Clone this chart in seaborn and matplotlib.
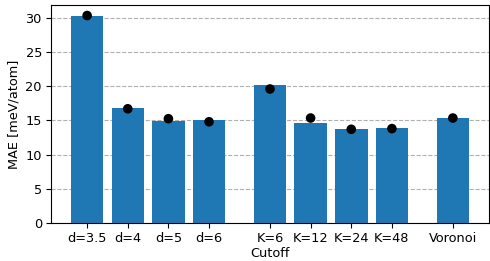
import matplotlib
matplotlib.use("Agg")
import matplotlib.pyplot as plt
import numpy as np
import pandas as pd
import seaborn as sns

# Cutoff schemes, grouped by type (distance, k-nearest, Voronoi)
labels = ["d=3.5", "d=4", "d=5", "d=6", "K=6", "K=12", "K=24", "K=48", "Voronoi"]
group = ["d", "d", "d", "d", "K", "K", "K", "K", "V"]
mae_bar = [30.3, 16.85, 14.95, 15.1, 20.2, 14.65, 13.8, 13.9, 15.4]
mae_dot = [30.35, 16.7, 15.25, 14.8, 19.6, 15.35, 13.7, 13.8, 15.35]

# x positions: one slot per bar, an extra half slot between groups
pos = []
x = 0.0
for i, g in enumerate(group):
    if i > 0:
        x += 1.0 if g == group[i - 1] else 1.5
    pos.append(x)

df = pd.DataFrame({"pos": pos, "bar": mae_bar, "dot": mae_dot, "label": labels})

# reference looks like it was rendered at ~0.93 scale
scale = 0.93
plt.rcParams.update({
    "font.size": 10 * scale,
    "xtick.major.size": 3.5 * scale,
    "ytick.major.size": 3.5 * scale,
    "xtick.major.pad": 3.5 * scale,
    "ytick.major.pad": 3.5 * scale,
    "axes.labelpad": 4 * scale,
})

fig, ax = plt.subplots(figsize=(4.9, 2.61), dpi=100)
fig.subplots_adjust(left=0.104, right=0.998, top=0.981, bottom=0.146)

ax.set_axisbelow(True)
ax.yaxis.grid(True, linestyle="--", color="#b0b0b0", linewidth=0.8)

sns.barplot(data=df, x="pos", y="bar", native_scale=True, color="#1f77b4",
            saturation=1, width=0.8, ax=ax, zorder=2)
sns.scatterplot(data=df, x="pos", y="dot", color="black", s=48,
                edgecolor="none", ax=ax, zorder=3)

ax.set_xticks(df["pos"])
ax.set_xticklabels(df["label"])
ax.set_xlim(-0.89, 9.89)
ax.set_ylim(0, 31.9)
ax.set_yticks(range(0, 31, 5))
ax.set_xlabel("Cutoff", labelpad=1.5)
ax.set_ylabel("MAE [meV/atom]")

fig.savefig("out.png", dpi=100)
plt.close(fig)
